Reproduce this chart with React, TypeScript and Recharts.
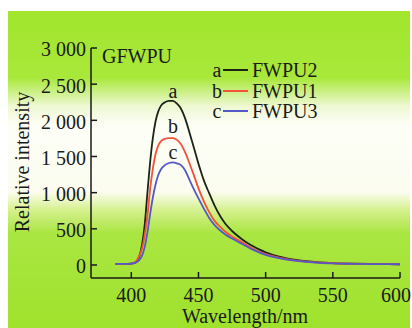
import { LineChart, Line, XAxis, YAxis, Legend, ReferenceDot, Customized } from 'recharts'

const wavelength = [388, 395, 400, 403, 406, 408, 410, 412, 414, 416, 418, 420, 422, 425, 428, 431, 434, 437, 440, 443, 446, 450, 454, 458, 462, 466, 470, 475, 480, 485, 490, 495, 500, 510, 520, 530, 540, 550, 565, 580, 600]
const fwpu2 = [15, 15, 20, 35, 120, 280, 560, 1000, 1420, 1750, 1980, 2120, 2200, 2250, 2270, 2270, 2230, 2160, 2030, 1850, 1660, 1400, 1170, 990, 820, 680, 570, 470, 390, 320, 265, 215, 175, 115, 78, 52, 36, 26, 18, 14, 10]
const fwpu1 = [15, 15, 20, 40, 130, 230, 420, 680, 1050, 1330, 1530, 1650, 1710, 1745, 1755, 1755, 1730, 1670, 1560, 1420, 1270, 1060, 880, 730, 610, 530, 460, 395, 340, 285, 230, 185, 150, 100, 68, 46, 32, 24, 17, 13, 10]
const fwpu3 = [15, 15, 18, 30, 70, 130, 250, 450, 700, 930, 1110, 1240, 1320, 1380, 1410, 1420, 1405, 1380, 1310, 1190, 1070, 920, 780, 650, 550, 480, 420, 365, 315, 265, 215, 175, 140, 95, 64, 44, 30, 22, 16, 12, 10]

const xTicks = [400, 450, 500, 550, 600]
const yTicks = [0, 500, 1000, 1500, 2000, 2500, 3000]

const series = [
  { key: 'fwpu2', letter: 'a', name: 'FWPU2', color: '#1c2318', peak: 2270, labelOffset: 3 },
  { key: 'fwpu1', letter: 'b', name: 'FWPU1', color: '#f4503a', peak: 1755, labelOffset: 5 },
  { key: 'fwpu3', letter: 'c', name: 'FWPU3', color: '#5558c8', peak: 1420, labelOffset: 3 },
]

const data = wavelength.map((w, i) => ({ w, fwpu2: fwpu2[i], fwpu1: fwpu1[i], fwpu3: fwpu3[i] }))

const FONT = '"Liberation Serif", "Times New Roman", serif'
const INK = '#1a1a1a'
const TICK_LEN = 6
const X_GAP = 10
const Y_GAP = 5
const CHART_W = 412

function fmtY(v: number) {
  if (v < 1000) return String(v)
  return `${Math.floor(v / 1000)} ${String(v % 1000).padStart(3, '0')}`
}

// ticks point into the plot, so draw them with the label
function XTick(props: any) {
  const { x, y, payload } = props
  const axisY = y - X_GAP
  // keep the last label inside the picture
  const tx = Math.min(x, CHART_W - 16)
  return (
    <g>
      <line x1={x} x2={x} y1={axisY} y2={axisY - TICK_LEN} stroke={INK} strokeWidth={1.5} />
      <text x={tx} y={y} dy="0.71em" textAnchor="middle" fill={INK} fontSize={20} fontFamily={FONT}>
        {payload.value}
      </text>
    </g>
  )
}

function YTick(props: any) {
  const { x, y, payload } = props
  const axisX = x + Y_GAP
  return (
    <g>
      <line x1={axisX} x2={axisX + TICK_LEN} y1={y} y2={y} stroke={INK} strokeWidth={1.5} />
      <text x={x} y={y} dy="0.42em" textAnchor="end" fill={INK} fontSize={20} fontFamily={FONT}>
        {fmtY(payload.value)}
      </text>
    </g>
  )
}

function SeriesLegend() {
  return (
    <div style={{ fontFamily: FONT, fontSize: 20, color: INK, lineHeight: '20.5px' }}>
      {series.map((s) => (
        <div key={s.key} style={{ display: 'flex', alignItems: 'center', height: 20.5 }}>
          <span style={{ width: 10, textAlign: 'center' }}>{s.letter}</span>
          <span style={{ display: 'inline-block', width: 25, height: 2, background: s.color, margin: '0 4px 0 1px' }} />
          <span>{s.name}</span>
        </div>
      ))}
    </div>
  )
}

function Annotations() {
  return (
    <g fontFamily={FONT} fontSize={20} fill={INK}>
      <text x={102} y={63}>GFWPU</text>
      <text x={245} y={323} textAnchor="middle">Wavelength/nm</text>
      <text transform="translate(29 162) rotate(-90)" textAnchor="middle">Relative intensity</text>
    </g>
  )
}

export default function App() {
  return (
    <div style={{ position: 'absolute', left: 0, top: 0, width: 412, height: 328, background: '#fff', overflow: 'hidden' }}>
      <div
        style={{
          position: 'absolute',
          left: 8,
          top: 11,
          width: 402,
          height: 317,
          background:
            'linear-gradient(to bottom, #a2e62e 0%, #a8e83a 21%, #eef8d2 30%, #fdfef6 36%, #fcfdf0 57%, #d4f08c 63%, #aae642 70%, #9fe22c 100%)',
        }}
      />
      <LineChart width={CHART_W} height={328} data={data} margin={{ top: 48, right: 12, bottom: 0, left: 0 }} style={{ position: 'absolute', left: 0, top: 0 }}>
        <XAxis
          dataKey="w"
          type="number"
          domain={[370, 600]}
          ticks={xTicks}
          allowDataOverflow
          height={50}
          tickSize={0}
          tickMargin={X_GAP}
          tickLine={false}
          stroke={INK}
          strokeWidth={1.5}
          tick={XTick}
        />
        <YAxis
          type="number"
          domain={[-180, 3000]}
          ticks={yTicks}
          allowDataOverflow
          width={91}
          tickSize={0}
          tickMargin={Y_GAP}
          tickLine={false}
          stroke={INK}
          strokeWidth={1.5}
          tick={YTick}
        />
        {series.map((s) => (
          <Line
            key={s.key}
            dataKey={s.key}
            name={s.name}
            type="monotone"
            stroke={s.color}
            strokeWidth={1.8}
            dot={false}
            isAnimationActive={false}
          />
        ))}
        {series.map((s) => (
          <ReferenceDot
            key={'lbl-' + s.key}
            x={431}
            y={s.peak}
            r={0}
            fill="none"
            stroke="none"
            label={{ value: s.letter, position: 'top', offset: s.labelOffset, fontFamily: FONT, fontSize: 20, fill: INK }}
          />
        ))}
        <Legend
          layout="vertical"
          align="center"
          verticalAlign="middle"
          content={SeriesLegend}
          wrapperStyle={{ top: 60, left: 212, width: 'auto', height: 'auto' }}
        />
        <Customized component={Annotations} />
      </LineChart>
    </div>
  )
}
